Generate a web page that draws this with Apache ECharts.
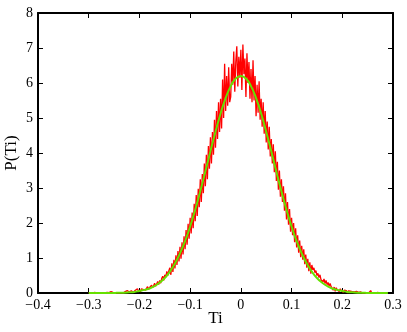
<!DOCTYPE html>
<html>
<head>
<meta charset="utf-8">
<script src="https://cdn.jsdelivr.net/npm/echarts@6/dist/echarts.min.js"></script>
<style>
html,body{margin:0;padding:0;background:#fff}
#chart{width:407px;height:332px}
</style>
</head>
<body>
<div id="chart"></div>
<script>
// ==================== DATA ====================
// histogram of Ti: bins start at -0.300, width 0.002 (one row = 0.02)
const binStart = -0.3, binStep = 0.002;
const histP = [
  0.00,0.00,0.01,0.00,0.00,0.00,0.02,0.00,0.00,0.01,
  0.00,0.00,0.00,0.03,0.00,0.01,0.00,0.00,0.02,0.00,
  0.01,0.00,0.04,0.00,0.02,0.00,0.01,0.05,0.00,0.02,
  0.00,0.03,0.01,0.06,0.00,0.02,0.04,0.00,0.07,0.02,
  0.03,0.00,0.06,0.10,0.02,0.05,0.08,0.03,0.12,0.06,
  0.09,0.04,0.12,0.07,0.10,0.15,0.08,0.13,0.18,0.10,
  0.16,0.12,0.22,0.15,0.20,0.28,0.19,0.26,0.33,0.24,
  0.36,0.28,0.42,0.48,0.36,0.52,0.45,0.62,0.50,0.64,
  0.72,0.52,0.85,0.60,0.95,0.70,1.08,0.80,1.20,0.90,
  1.32,0.98,1.45,1.10,1.62,1.25,1.80,1.38,1.98,1.55,
  2.15,1.70,2.30,1.85,2.55,2.05,2.80,2.20,2.98,2.45,
  3.25,2.60,3.40,2.85,3.70,3.05,3.95,3.25,4.20,3.55,
  4.45,3.70,4.60,3.95,4.95,4.15,5.20,4.40,5.45,4.60,
  5.55,4.70,6.10,5.00,6.55,5.20,6.20,5.35,6.45,5.45,
  5.60,6.55,5.95,6.90,5.75,6.60,7.05,5.90,6.75,6.15,
  6.95,5.80,7.10,6.25,6.70,5.60,6.85,6.00,6.60,5.55,
  6.40,5.45,6.65,5.50,6.20,5.05,5.95,5.15,6.05,4.95,
  5.55,4.75,5.45,4.55,5.20,4.30,4.90,4.10,4.75,3.90,
  4.40,3.70,4.25,3.45,4.05,3.20,3.75,2.95,3.50,2.75,
  3.25,2.60,3.05,2.35,2.85,2.10,2.60,1.95,2.40,1.75,
  2.15,1.65,2.00,1.45,1.85,1.30,1.65,1.15,1.50,1.02,
  1.35,0.95,1.25,0.82,1.10,0.72,0.98,0.62,0.88,0.55,
  0.80,0.66,0.72,0.58,0.64,0.50,0.56,0.44,0.52,0.38,
  0.42,0.32,0.40,0.27,0.36,0.24,0.30,0.20,0.27,0.18,
  0.20,0.08,0.17,0.05,0.15,0.09,0.13,0.04,0.12,0.06,
  0.10,0.02,0.08,0.03,0.07,0.00,0.06,0.02,0.05,0.01,
  0.04,0.00,0.03,0.01,0.05,0.00,0.02,0.00,0.03,0.01,
  0.00,0.02,0.00,0.04,0.00,0.01,0.00,0.03,0.07,0.00,
  0.02,0.00,0.01,0.00,0.00,0.02,0.00,0.00,0.01,0.00,
  0.00,0.01,0.00,0.00,0.00
];

// fitted curve, read every 0.01 from -0.30 to 0.29
const fitX = [
  -0.30,-0.29,-0.28,-0.27,-0.26,-0.25,-0.24,-0.23,-0.22,-0.21,
  -0.20,-0.19,-0.18,-0.17,-0.16,-0.15,-0.14,-0.13,-0.12,-0.11,
  -0.10,-0.09,-0.08,-0.07,-0.06,-0.05,-0.04,-0.03,-0.02,-0.01,
   0.00, 0.01, 0.02, 0.03, 0.04, 0.05, 0.06, 0.07, 0.08, 0.09,
   0.10, 0.11, 0.12, 0.13, 0.14, 0.15, 0.16, 0.17, 0.18, 0.19,
   0.20, 0.21, 0.22, 0.23, 0.24, 0.25, 0.26, 0.27, 0.28, 0.29
];
const fitP = [
  0.00,0.00,0.00,0.00,0.00,0.00,0.01,0.01,0.02,0.03,
  0.06,0.09,0.13,0.20,0.30,0.43,0.61,0.84,1.13,1.48,
  1.90,2.38,2.91,3.47,4.05,4.61,5.13,5.57,5.91,6.13,
  6.20,6.13,5.91,5.57,5.13,4.61,4.05,3.47,2.91,2.38,
  1.90,1.48,1.13,0.84,0.61,0.43,0.30,0.20,0.13,0.09,
  0.06,0.03,0.02,0.01,0.01,0.00,0.00,0.00,0.00,0.00
];

// ==================== CHART ====================
const FONT = 'Liberation Serif';
const fmtTick = v => {
  const r = Math.round(v*10)/10;
  return String(r).replace('-', '\u2212');
};
const boxLine = {show:true, onZero:false, lineStyle:{color:'#000', width:2}};
const tickIn = {show:true, inside:true, length:5, lineStyle:{color:'#000', width:1}};
const lbl = {color:'#000', fontFamily:FONT, fontSize:14};

const histData = histP.map((p,i)=>[+(binStart+i*binStep).toFixed(3), p]);
const fitData = fitX.map((x,i)=>[x, fitP[i]]);

const chart = echarts.init(document.getElementById('chart'));
chart.setOption({
  animation:false,
  backgroundColor:'#fff',
  grid:{left:38, right:14, top:13, bottom:39, containLabel:false, outerBoundsMode:'none'},
  xAxis:[
    {type:'value', min:-0.4, max:0.3, interval:0.1, axisLine:boxLine, axisTick:tickIn,
     axisLabel:{...lbl, margin:5, formatter:fmtTick}, splitLine:{show:false},
     name:'Ti', nameLocation:'middle', nameGap:17, nameMoveOverlap:false,
     nameTextStyle:{color:'#000', fontFamily:FONT, fontSize:17}},
    {type:'value', position:'top', min:-0.4, max:0.3, interval:0.1, axisLine:boxLine, axisTick:tickIn,
     axisLabel:{show:false}, splitLine:{show:false}}
  ],
  yAxis:[
    {type:'value', min:0, max:8, interval:1, axisLine:boxLine, axisTick:tickIn,
     axisLabel:{...lbl, margin:5}, splitLine:{show:false},
     name:'P(Ti)', nameLocation:'middle', nameGap:18, nameMoveOverlap:false,
     nameTextStyle:{color:'#000', fontFamily:FONT, fontSize:17}},
    {type:'value', position:'right', min:0, max:8, interval:1, axisLine:boxLine, axisTick:tickIn,
     axisLabel:{show:false}, splitLine:{show:false}}
  ],
  series:[
    {name:'hist', type:'line', data:histData, symbol:'none', lineStyle:{color:'#ff0000', width:1.3}, z:2},
    {name:'fit', type:'line', data:fitData, smooth:true, symbol:'none', lineStyle:{color:'#66e000', width:2}, z:3}
  ]
});
</script>
</body>
</html>
